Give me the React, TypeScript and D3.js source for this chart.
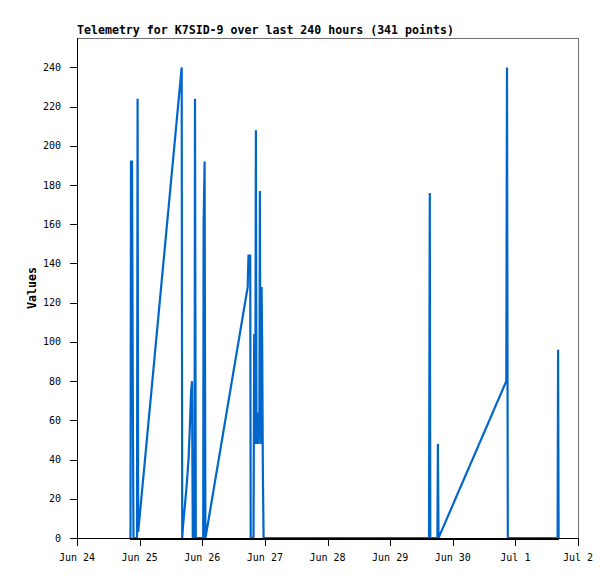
import React from 'react';
import * as d3 from 'd3';

const TITLE = 'Telemetry for K7SID-9 over last 240 hours (341 points)';
const Y_LABEL = 'Values';

// x domain: Jun 24 00:00 to Jul 2 00:00 (UTC)
const DOMAIN_START = Date.UTC(2024, 5, 24);
const DOMAIN_END = Date.UTC(2024, 6, 2);
const Y_MAX = 255;
const yTickValues = [0, 20, 40, 60, 80, 100, 120, 140, 160, 180, 200, 220, 240];

// Each point: [hours since Jun 24 00:00, value]
const burst1: [number, number][] = [
  [20.5, 0], [20.69, 192], [21.08, 192], [21.46, 48], [21.65, 0],
  [22.99, 0], [23.22, 224], [23.45, 3],
];
const ramp1: [number, number][] = [
  [24.09, 12], [24.58, 19], [24.93, 24], [25.35, 30], [25.78, 36], [26.13, 41],
  [26.55, 47], [26.9, 52], [27.32, 58], [27.67, 63], [28.03, 68], [28.45, 74],
  [28.8, 79], [29.22, 85], [29.57, 90], [29.92, 95], [30.34, 101], [30.7, 106],
  [31.12, 112], [31.47, 117], [31.89, 123], [32.24, 128], [32.59, 133], [33.02, 139],
  [33.37, 144], [33.79, 150], [34.21, 156], [34.56, 161], [34.92, 166], [35.34, 172],
  [35.69, 177], [36.11, 183], [36.46, 188], [36.89, 194], [37.31, 200], [37.66, 205],
  [38.01, 210], [38.43, 216], [38.78, 221], [39.21, 227], [39.56, 232], [39.91, 237],
  [40.12, 240], [40.32, 0],
];
const burst2: [number, number][] = [
  [40.62, 6], [41.38, 17], [42.15, 29], [42.73, 40], [43.11, 52], [43.42, 63],
  [43.69, 74], [44.07, 80], [44.38, 0], [45.03, 0], [45.22, 224], [45.53, 0],
  [48.36, 0], [48.52, 160], [48.9, 192], [49.21, 0],
];
const ramp2: [number, number][] = [
  [49.75, 4], [50.26, 8], [50.76, 12], [51.27, 16], [51.77, 20], [52.28, 24],
  [52.78, 28], [53.29, 32], [53.79, 36], [54.3, 40], [54.8, 44], [55.31, 48],
  [55.82, 52], [56.32, 56], [56.83, 60], [57.33, 64], [57.84, 68], [58.34, 72],
  [58.85, 76], [59.35, 80], [59.86, 84], [60.36, 88], [60.87, 92], [61.38, 96],
  [61.88, 100], [62.39, 104], [62.89, 108], [63.4, 112], [63.9, 116], [64.41, 120],
  [64.91, 124], [65.42, 128],
];
const burst3: [number, number][] = [
  [65.72, 144], [66.38, 144], [66.57, 0], [67.64, 0], [67.91, 104], [68.14, 48],
  [68.33, 64], [68.56, 208], [68.79, 48], [68.98, 64], [69.21, 48], [69.4, 64],
  [69.63, 48], [69.9, 64], [70.09, 177], [70.32, 64], [70.59, 48], [70.75, 128],
  [70.98, 96], [71.24, 32], [71.51, 0],
];
const burst4: [number, number][] = [
  [134.9, 0], [135.2, 176], [135.4, 0], [138.12, 0], [138.31, 48], [138.54, 0],
];
const ramp3: [number, number][] = [
  [139.84, 4], [141.14, 8], [142.44, 12], [143.74, 16], [145.04, 20], [146.33, 24],
  [147.63, 28], [148.93, 32], [150.23, 36], [151.53, 40], [152.83, 44], [154.13, 48],
  [155.43, 52], [156.73, 56], [158.03, 60], [159.33, 64], [160.62, 68], [161.92, 72],
  [163.22, 76], [164.52, 80],
];
const burst5: [number, number][] = [
  [164.79, 240], [165.1, 0], [184.18, 0], [184.37, 96], [184.57, 0],
];

const series = [...burst1, ...ramp1, ...burst2, ...ramp2, ...burst3, ...burst4, ...ramp3, ...burst5];

const W = 615;
const H = 579;
const LEFT = 77;
const RIGHT = 578;
const TOP = 38;
const BOTTOM = 538;

const LINE_COLOR = '#0066cc';
const MONO = '"DejaVu Sans Mono", "Liberation Mono", monospace';

export default function App() {
  const x = d3.scaleUtc().domain([new Date(DOMAIN_START), new Date(DOMAIN_END)]).range([LEFT, RIGHT]);
  const y = d3.scaleLinear().domain([0, Y_MAX]).range([BOTTOM, TOP]);
  const toDate = (h: number) => new Date(DOMAIN_START + h * 3600 * 1000);

  const line = d3
    .line<[number, number]>()
    .x((d) => x(toDate(d[0])))
    .y((d) => y(d[1]));

  const xTicks = x.ticks(d3.utcDay.every(1)!);
  const fmt = d3.utcFormat('%b %-d');
  const px = (v: number) => Math.round(v) + 0.5;

  const firstX = x(toDate(series[0][0]));
  const lastX = x(toDate(series[series.length - 1][0]));

  return (
    <svg
      width={W}
      height={H}
      style={{ position: 'absolute', left: 0, top: 0, background: '#fff' }}
      xmlns="http://www.w3.org/2000/svg"
    >
      <rect x={0} y={0} width={W} height={H} fill="#fff" />
      <text x={LEFT} y={34} fontFamily={MONO} fontWeight="bold" fontSize={11.6} fill="#000">
        {TITLE}
      </text>

      <path
        d={line(series) || ''}
        fill="none"
        stroke={LINE_COLOR}
        strokeWidth={2.2}
        strokeLinejoin="miter"
        strokeMiterlimit={2}
      />
      {/* zero level of the series, drawn dark over the bottom axis */}
      <line x1={firstX} x2={lastX} y1={BOTTOM + 0.5} y2={BOTTOM + 0.5} stroke="#000" strokeWidth={2} shapeRendering="crispEdges" />

      {/* frame */}
      <line x1={LEFT} x2={RIGHT + 1} y1={px(TOP)} y2={px(TOP)} stroke="#707070" strokeWidth={1} shapeRendering="crispEdges" />
      <line x1={px(RIGHT)} x2={px(RIGHT)} y1={TOP} y2={BOTTOM} stroke="#707070" strokeWidth={1} shapeRendering="crispEdges" />
      <line x1={px(LEFT)} x2={px(LEFT)} y1={TOP} y2={BOTTOM + 1} stroke="#000" strokeWidth={1} shapeRendering="crispEdges" />
      <line x1={LEFT} x2={RIGHT + 1} y1={px(BOTTOM)} y2={px(BOTTOM)} stroke="#000" strokeWidth={1} shapeRendering="crispEdges" />

      {yTickValues.map((v) => (
        <g key={'y' + v}>
          <line x1={LEFT - 7} x2={LEFT} y1={px(y(v))} y2={px(y(v))} stroke="#000" strokeWidth={1} shapeRendering="crispEdges" />
          <text x={61} y={y(v)} dy="0.35em" textAnchor="end" fontFamily={MONO} fontSize={10} fill="#000">
            {v}
          </text>
        </g>
      ))}

      {xTicks.map((t) => (
        <g key={'x' + t.getTime()}>
          <line x1={px(x(t))} x2={px(x(t))} y1={BOTTOM} y2={BOTTOM + 8} stroke="#000" strokeWidth={1} shapeRendering="crispEdges" />
          <text x={x(t)} y={561} textAnchor="middle" fontFamily={MONO} fontSize={10} fill="#000">
            {fmt(t)}
          </text>
        </g>
      ))}

      <text
        transform={`translate(36, ${(TOP + BOTTOM) / 2}) rotate(-90)`}
        textAnchor="middle"
        fontFamily={MONO}
        fontWeight="bold"
        fontSize={11.6}
        fill="#000"
      >
        {Y_LABEL}
      </text>
    </svg>
  );
}
